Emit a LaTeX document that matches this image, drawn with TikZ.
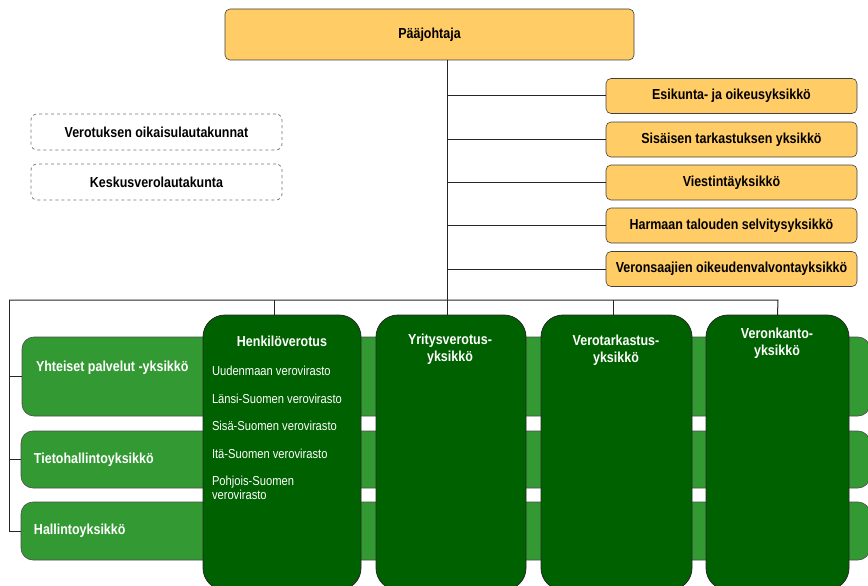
\documentclass[tikz,border=0pt]{standalone}
\usepackage{fontspec}
\setmainfont[FakeStretch=0.86]{Liberation Sans}
\definecolor{yel}{HTML}{FFCC66}
\definecolor{lgreen}{HTML}{339933}
\definecolor{dgreen}{HTML}{006100}
\begin{document}
\begin{tikzpicture}[x=1pt,y=-1pt,
  every node/.style={inner sep=0pt, outer sep=0pt},
  bfont/.style={font=\fontsize{14.5}{17}\selectfont\bfseries},
  ybox/.style={draw=black!75, line width=0.6pt, fill=yel, rounded corners=5pt, bfont, text=black},
  dbox/.style={draw=black!55, dashed, line width=0.7pt, rounded corners=6pt, bfont, text=black},
  lbar/.style={draw=black!70, fill=lgreen, rounded corners=12pt, line width=0.6pt},
  dcol/.style={draw=black!85, fill=dgreen, rounded corners=22pt, line width=0.8pt},
  wlab/.style={text=white, bfont, align=center},
  ilab/.style={text=white, font=\fontsize{13}{14}\selectfont, align=left, anchor=west},
  conn/.style={draw=black!85, line width=1pt}
]
\useasboundingbox (0,0) rectangle (868,586);
\clip (0,0) rectangle (868,586);

% top
\node[ybox, minimum width=409pt, minimum height=51pt] (paa) at (429.5,34.5) {Pääjohtaja};

\node[ybox, minimum width=251pt, minimum height=35pt] (esi) at (731.5,96) {Esikunta- ja oikeusyksikkö};
\node[ybox, minimum width=251pt, minimum height=35pt] (sis) at (731.5,139.5) {Sisäisen tarkastuksen yksikkö};
\node[ybox, minimum width=251pt, minimum height=35pt] (vie) at (731.5,182.5) {Viestintäyksikkö};
\node[ybox, minimum width=251pt, minimum height=35pt] (har) at (731.5,225.5) {Harmaan talouden selvitysyksikkö};
\node[ybox, minimum width=251pt, minimum height=35pt] (vsa) at (731.5,269) {Veronsaajien oikeudenvalvontayksikkö};

\node[dbox, minimum width=251pt, minimum height=36pt] (ool) at (156.5,132) {Verotuksen oikaisulautakunnat};
\node[dbox, minimum width=251pt, minimum height=36pt] (kvl) at (156.5,182) {Keskusverolautakunta};

% bars
\node[lbar, minimum width=848pt, minimum height=79pt] (yht) at (446,376.5) {};
\node[lbar, minimum width=849pt, minimum height=57pt] (tie) at (445.5,459.5) {};
\node[lbar, minimum width=849pt, minimum height=58pt] (hal) at (445.5,531) {};

\node[wlab, anchor=west] (yhtT) at (36,368) {Yhteiset palvelut -yksikkö};
\node[wlab, anchor=west] (tieT) at (34,460) {Tietohallintoyksikkö};
\node[wlab, anchor=west] (halT) at (34,531) {Hallintoyksikkö};

% columns
\node[dcol, minimum width=158pt, minimum height=275pt] (hen) at (282,452.5) {};
\node[dcol, minimum width=150pt, minimum height=275pt] (yri) at (451,452.5) {};
\node[dcol, minimum width=151pt, minimum height=275pt] (vtk) at (616.5,452.5) {};
\node[dcol, minimum width=143pt, minimum height=275pt] (vka) at (777.5,452.5) {};

\node[wlab] (henT) at (282,341) {Henkilöverotus};
\node[wlab] (yriT) at (450,349.5) {Yritysverotus-\\yksikkö};
\node[wlab] (vtkT) at (616,350.5) {Verotarkastus-\\yksikkö};
\node[wlab] (vkaT) at (777,343.5) {Veronkanto-\\yksikkö};

\node[ilab] (i1) at (212,371) {Uudenmaan verovirasto};
\node[ilab] (i2) at (212,398.5) {Länsi-Suomen verovirasto};
\node[ilab] (i3) at (212,426) {Sisä-Suomen verovirasto};
\node[ilab] (i4) at (212,453.5) {Itä-Suomen verovirasto};
\node[ilab] (i5) at (212,488) {Pohjois-Suomen\\verovirasto};

% connectors
\coordinate (bl) at (9,300);
\coordinate (br) at (778,300);
\coordinate (tk) at ([xshift=-4pt]yri.north);
\coordinate (tt) at (paa.south -| tk);
\draw[conn] (tt) -- (tk);
\draw[conn] (bl) -- (br) -- (vka.north);
\draw[conn] ([xshift=-8pt]hen.north) -- ([xshift=-8pt]hen.north |- bl);
\draw[conn] ([xshift=-3.5pt]vtk.north) -- ([xshift=-3.5pt]vtk.north |- bl);
\draw[conn] (bl) |- (yht.west);
\draw[conn] (bl) |- (tie.west);
\draw[conn] (bl) |- (hal.west);
\foreach \n in {esi,sis,vie,har,vsa}
  \draw[conn] (tt |- \n.west) -- (\n.west);
\end{tikzpicture}
\end{document}
